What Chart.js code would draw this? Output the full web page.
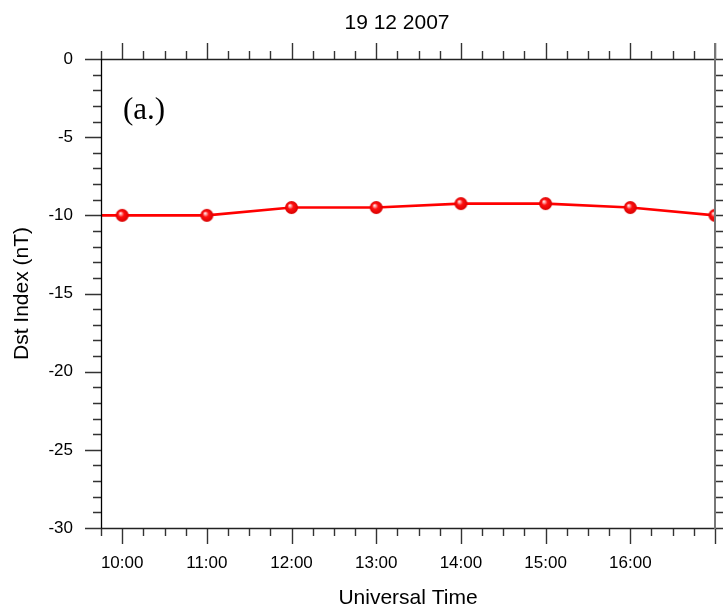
<!DOCTYPE html>
<html><head><meta charset="utf-8">
<script src="https://cdn.jsdelivr.net/npm/chart.js@4/dist/chart.umd.min.js"></script>
<style>html,body{margin:0;padding:0;background:#fff}#wrap{width:726px;height:611px}</style>
</head><body><div id="wrap"><canvas id="c" width="726" height="611"></canvas></div>
<script>
const chartTitle = '19 12 2007';
const panelLabel = '(a.)';
const xAxisTitle = 'Universal Time';
const yAxisTitle = 'Dst Index (nT)';
const hours = [9, 10, 11, 12, 13, 14, 15, 16, 17];
const dst = [-10, -10, -10, -9.5, -9.5, -9.25, -9.25, -9.5, -10];
const xTickValues = [10, 11, 12, 13, 14, 15, 16];
const xTickLabels = ['10:00', '11:00', '12:00', '13:00', '14:00', '15:00', '16:00'];
const yTickValues = [0, -5, -10, -15, -20, -25, -30];
const yTickLabels = ['0', '-5', '-10', '-15', '-20', '-25', '-30'];
const xRange = [9.75, 17];
const yRange = [-30, 0];

const SANS = "'Liberation Sans', Arial, sans-serif";

// sphere marker
function makeSphere(r) {
  const c = document.createElement('canvas');
  const s = Math.ceil(r * 2 + 2);
  c.width = s; c.height = s;
  const g = c.getContext('2d');
  const cx = s / 2, cy = s / 2;
  const grad = g.createRadialGradient(cx - r * 0.3, cy - r * 0.35, 0, cx, cy, r);
  grad.addColorStop(0, '#ffffff');
  grad.addColorStop(0.2, '#ffa0a0');
  grad.addColorStop(0.45, '#ff1010');
  grad.addColorStop(1, '#d80000');
  g.fillStyle = grad;
  g.beginPath(); g.arc(cx, cy, r, 0, Math.PI * 2); g.fill();
  return c;
}
const sphere = makeSphere(6.5);

function findLabel(vals, labels, v) {
  const i = vals.findIndex(t => Math.abs(t - v) < 1e-6);
  return i >= 0 ? labels[i] : '';
}

const framePlugin = {
  id: 'frame',
  afterDatasetsDraw(chart) {
    const {ctx, chartArea: a, scales: {x, y}} = chart;
    ctx.save();
    ctx.lineCap = 'butt';
    ctx.strokeStyle = '#333';
    ctx.lineWidth = 1.4;
    x.ticks.forEach(t => {
      const px = Math.round(x.getPixelForValue(t.value)) + 0.5;
      const major = Math.abs(t.value - Math.round(t.value)) < 1e-6;
      const len = major ? 16 : 8;
      ctx.beginPath();
      ctx.moveTo(px, a.top); ctx.lineTo(px, a.top - len);
      ctx.moveTo(px, a.bottom); ctx.lineTo(px, a.bottom + len);
      ctx.stroke();
    });
    y.ticks.forEach(t => {
      const py = Math.round(y.getPixelForValue(t.value)) + 0.5;
      const major = Math.abs(t.value % 5) < 1e-6;
      const len = major ? 16 : 8;
      ctx.beginPath();
      ctx.moveTo(a.left, py); ctx.lineTo(a.left - len, py);
      ctx.moveTo(a.right, py); ctx.lineTo(a.right + 8, py);
      ctx.stroke();
    });
    ctx.strokeStyle = '#222';
    ctx.lineWidth = 1.3;
    ctx.beginPath();
    ctx.moveTo(a.left, a.top + 0.5); ctx.lineTo(a.right, a.top + 0.5);
    ctx.moveTo(a.left, a.bottom + 0.5); ctx.lineTo(a.right, a.bottom + 0.5);
    ctx.stroke();
    ctx.strokeStyle = '#000';
    ctx.beginPath();
    ctx.moveTo(a.left + 0.5, a.top); ctx.lineTo(a.left + 0.5, a.bottom);
    ctx.stroke();
    ctx.strokeStyle = '#777';
    ctx.lineWidth = 2;
    ctx.beginPath();
    ctx.moveTo(a.right, a.top - 16); ctx.lineTo(a.right, a.bottom + 1);
    ctx.stroke();
    ctx.restore();
  },
  afterDraw(chart) {
    const {ctx, chartArea: a} = chart;
    ctx.save();
    ctx.fillStyle = '#000';
    ctx.textAlign = 'center';
    ctx.textBaseline = 'middle';
    ctx.font = "21px " + SANS;
    ctx.fillText(chartTitle, 397, 23);
    ctx.textAlign = 'left';
    ctx.font = "31px 'Liberation Serif', 'Times New Roman', serif";
    ctx.fillText(panelLabel, a.left + 22, 111);
    ctx.restore();
  }
};

new Chart(document.getElementById('c'), {
  type: 'line',
  data: {
    datasets: [{
      data: hours.map((h, i) => ({x: h, y: dst[i]})),
      borderColor: '#ff0000',
      borderWidth: 2.7,
      pointStyle: sphere,
      pointRadius: 6.5,
      tension: 0,
      clip: 0,
      fill: false
    }]
  },
  options: {
    responsive: false,
    animation: false,
    devicePixelRatio: 1,
    events: [],
    layout: {padding: {top: 59, right: 11, left: 0, bottom: 0}},
    plugins: {legend: {display: false}, title: {display: false}, tooltip: {enabled: false}},
    scales: {
      x: {
        type: 'linear',
        min: xRange[0], max: xRange[1],
        afterFit(s) { s.height = 83; s.paddingLeft = 0; s.paddingRight = 0; },
        grid: {display: false, drawTicks: false},
        border: {display: false},
        ticks: {
          stepSize: 0.25, autoSkip: false, maxRotation: 0, minRotation: 0,
          padding: 25, color: '#000', font: {family: SANS, size: 17},
          callback: v => findLabel(xTickValues, xTickLabels, v)
        },
        title: {display: true, text: xAxisTitle, color: '#000', font: {family: SANS, size: 21}, padding: {top: 0, bottom: 0}}
      },
      y: {
        type: 'linear',
        min: yRange[0], max: yRange[1],
        afterFit(s) { s.width = 101; s.paddingTop = 0; s.paddingBottom = 0; },
        grid: {display: false, drawTicks: false},
        border: {display: false},
        ticks: {
          stepSize: 1, autoSkip: false,
          padding: 28, color: '#000', font: {family: SANS, size: 17},
          callback: v => findLabel(yTickValues, yTickLabels, v)
        },
        title: {display: true, text: yAxisTitle, color: '#000', font: {family: SANS, size: 21}, padding: {top: 10, bottom: 0}}
      }
    }
  },
  plugins: [framePlugin]
});
</script>
</body></html>
